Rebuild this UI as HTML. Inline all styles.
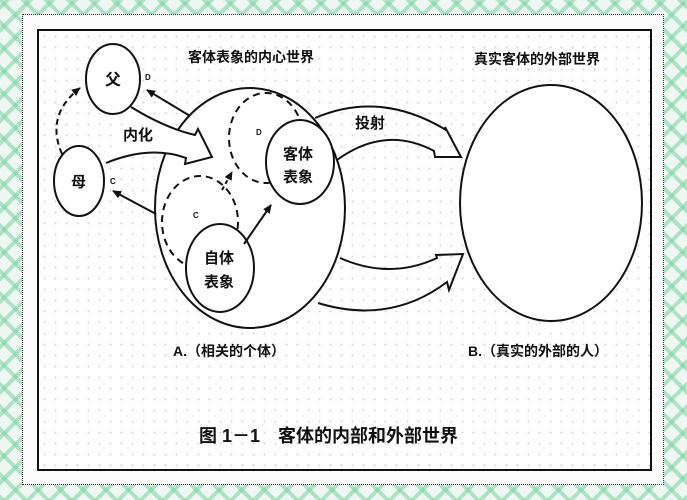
<!DOCTYPE html>
<html><head><meta charset="utf-8"><style>
html,body{margin:0;padding:0}
body{width:687px;height:500px;position:relative;overflow:hidden;
background-color:#eef7f1;
background-image:repeating-linear-gradient(45deg,rgba(120,210,160,.55) 0 4px,transparent 4px 16px),repeating-linear-gradient(-45deg,rgba(120,210,160,.55) 0 4px,transparent 4px 16px);}
#card{position:absolute;left:22px;top:14px;width:640px;height:469px;background:#fbfbfb;border:1px dotted #333}
#frame{position:absolute;left:37px;top:29px;width:611px;height:438px;border:2px solid #111;
background-color:#fff;background-image:radial-gradient(#d6d6d6 0.8px,transparent 1.2px);background-size:11px 11px}
svg{position:absolute;left:0;top:0}
text{font-family:"Liberation Sans","Noto Sans CJK SC",sans-serif;font-weight:bold;fill:#111}
</style></head><body>
<div id="card"></div><div id="frame"></div>
<svg width="687" height="500" viewBox="0 0 687 500">
<defs><marker id="ah" markerUnits="userSpaceOnUse" markerWidth="10" markerHeight="8" refX="8" refY="4" orient="auto"><path d="M0,0 L9,4 L0,8 z" fill="#111"/></marker></defs>
<g fill="none" stroke="#111" stroke-width="2">
<ellipse cx="250" cy="208" rx="95" ry="120" fill="#fff"/>
<ellipse cx="551" cy="203" rx="91" ry="118" fill="#fff"/>
<ellipse cx="266" cy="138" rx="37" ry="45" stroke-dasharray="7,5"/>
<ellipse cx="200" cy="222" rx="38" ry="46" stroke-dasharray="7,5"/>
<ellipse cx="300" cy="162" rx="34" ry="42" fill="#fff"/>
<ellipse cx="220" cy="268" rx="34" ry="44" fill="#fff"/>
<ellipse cx="113" cy="79" rx="27" ry="35" fill="#fff"/>
<ellipse cx="79" cy="181" rx="25" ry="35" fill="#fff"/>
<path d="M62,154 Q45,115 80,88" stroke-dasharray="6,4" marker-end="url(#ah)"/>
<path d="M190,116 L147,90" marker-end="url(#ah)"/>
<path d="M156,214 L113,191" marker-end="url(#ah)"/>
<path d="M244,244 L271,205" marker-end="url(#ah)"/>
<path d="M222,190 L232,172" stroke-dasharray="4,3" marker-end="url(#ah)"/>
<path d="M131,107 Q165,128 195,135 L198,129 L212,157 L185,164 L186,158 Q150,145 106,163" fill="#fff"/>
<path d="M315,118 Q380,90 446,130 L445,127 L461,157 L435,157 L434,151 Q385,125 337,160"/>
<path d="M340,258 Q390,280 437,258 L436,255 L463,254 L449,290 L447,282 Q390,325 318,303"/>
</g>
<g font-size="13">
<text x="105" y="85" font-size="16">父</text>
<text x="71" y="187" font-size="15">母</text>
<text x="123" y="140" font-size="15">内化</text>
<text x="355" y="128" font-size="15">投射</text>
<text x="283" y="159" font-size="15">客体</text>
<text x="283" y="182" font-size="15">表象</text>
<text x="204" y="263" font-size="15">自体</text>
<text x="204" y="287" font-size="15">表象</text>
<text x="145" y="80" font-size="8">D</text>
<text x="110" y="184" font-size="8">C</text>
<text x="256" y="135" font-size="8">D</text>
<text x="193" y="218" font-size="8">C</text>
</g>
<text x="188" y="62" font-size="14">客体表象的内心世界</text>
<text x="474" y="64" font-size="14">真实客体的外部世界</text>
<text x="173" y="356" font-size="14">A.（相关的个体）</text>
<text x="468" y="356" font-size="14">B.（真实的外部的人）</text>
<text x="199" y="442" font-size="18">图 1－1　客体的内部和外部世界</text>
</svg>
</body></html>
